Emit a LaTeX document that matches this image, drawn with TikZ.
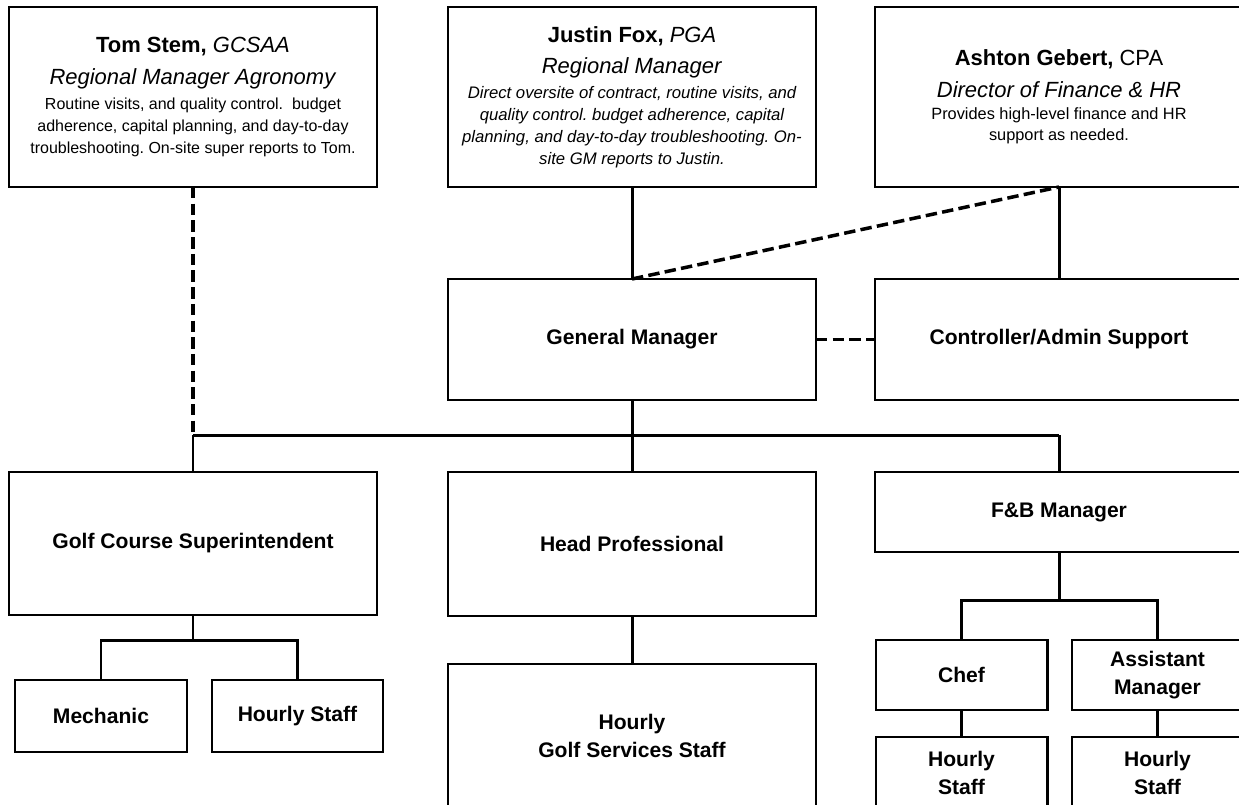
\documentclass[tikz,border=0pt]{standalone}
\usepackage{fontspec}
\setmainfont{Liberation Sans}
\usepackage{tikz}
\usetikzlibrary{calc}
\frenchspacing

\begin{document}
\begin{tikzpicture}[
    every node/.style={font=\fontsize{12}{16}\selectfont\bfseries},
    box/.style={draw, line width=1.4pt, inner sep=0pt, outer sep=0pt, align=center},
    bigbox/.style={box, minimum width=7.36cm},
    smallbox/.style={box, minimum width=3.43cm},
    headbox/.style={bigbox, minimum height=3.6cm, text width=7.2cm, align=flush center,
      font=\fontsize{12.5}{18}\selectfont\mdseries},
    conn/.style={line width=1.7pt},
    dashlink/.style={line width=2pt, dash pattern=on 6.5pt off 3pt}
  ]
  \useasboundingbox (0,0) rectangle (24.78,-16.08);
  \clip (0,0) rectangle (24.78,-16.08);

  % Regional staff
  \node[headbox] (tom) at (3.86,-1.94) {%
    \textbf{Tom Stem,} \textit{GCSAA}\\
    \textit{Regional Manager Agronomy}\par\vspace{1.5pt}
    {\fontsize{9.1}{12.5}\selectfont Routine visits, and quality control.~ budget\\
      adherence, capital planning, and day-to-day\\
      troubleshooting. On-site super reports to Tom.\par}\vspace{4pt}};
  \node[headbox] (justin) at (12.64,-1.94) {%
    \textbf{Justin Fox,} \textit{PGA}\\
    \textit{Regional Manager}\par\vspace{1.5pt}
    {\fontsize{9.5}{12.5}\selectfont\itshape Direct oversite of contract, routine visits, and\\
      quality control. budget adherence, capital\\
      planning, and day-to-day troubleshooting. On-\\
      site GM reports to Justin.\par}};
  \node[headbox] (ashton) at (21.18,-1.94) {%
    \textbf{Ashton Gebert,} CPA\\
    \textit{Director of Finance \& HR}\par\vspace{0.5pt}
    {\fontsize{9.3}{12}\selectfont Provides high-level finance and HR\\
      support as needed.\par}\vspace{4pt}};

  % On-site management
  \node[bigbox, minimum height=2.42cm] (gm) at (12.64,-6.79) {General Manager};
  \node[bigbox, minimum height=2.42cm] (ctrl) at (21.18,-6.79) {Controller/Admin Support};

  % Department heads
  \node[bigbox, minimum height=2.86cm] (super) at (3.86,-10.87) {Golf Course Superintendent};
  \node[bigbox, minimum height=2.88cm] (headpro) at (12.64,-10.88) {Head Professional};
  \node[bigbox, minimum height=1.6cm] (fbm) at (21.18,-10.24) {F\&B Manager};

  % Staff
  \node[smallbox, minimum height=1.44cm] (mech) at (2.02,-14.32) {Mechanic};
  \node[smallbox, minimum height=1.44cm] (hourlyA) at (5.95,-14.32) {Hourly Staff};
  \node[bigbox, minimum height=2.88cm] (golfstaff) at (12.64,-14.72) {Hourly\\ Golf Services Staff};
  \node[smallbox, minimum height=1.4cm] (chef) at (19.23,-13.5) {Chef};
  \node[smallbox, minimum height=1.4cm] (asst) at (23.15,-13.5) {Assistant\\ Manager};
  \node[smallbox, minimum height=1.44cm] (hourlyB) at (19.23,-15.46) {Hourly\\ Staff};
  \node[smallbox, minimum height=1.44cm] (hourlyC) at (23.15,-15.46) {Hourly\\ Staff};

  % Top level links
  \draw[conn] (justin.south) -- (gm.north);
  \draw[conn] (ashton.south) -- (ctrl.north);
  \draw[dashlink] (gm.north) -- (ashton.south);
  \draw[dashlink] (gm.east) -- (ctrl.west);

  % Main bus
  \coordinate (busL) at (3.86,-8.7);
  \coordinate (busR) at (21.18,-8.7);
  \draw[dashlink] (tom.south) -- (busL);
  \draw[conn] (busL) -- (busR);
  \draw[conn] (gm.south) -- (headpro.north);
  \draw[conn] (busL) -- (super.north);
  \draw[conn] (busR) -- (fbm.north);

  % Course maintenance
  \coordinate (supbus) at (3.86,-12.8);
  \draw[conn] (super.south) -- (supbus);
  \draw[conn] (mech.north) |- (supbus) -| (hourlyA.north);

  % Golf services
  \draw[conn] (headpro.south) -- (golfstaff.north);

  % Food and beverage
  \coordinate (fbbus) at (21.18,-12.0);
  \draw[conn] (fbm.south) -- (fbbus);
  \draw[conn] (chef.north) |- (fbbus) -| (asst.north);
  \draw[conn] (chef.south) -- (hourlyB.north);
  \draw[conn] (asst.south) -- (hourlyC.north);
\end{tikzpicture}
\end{document}
